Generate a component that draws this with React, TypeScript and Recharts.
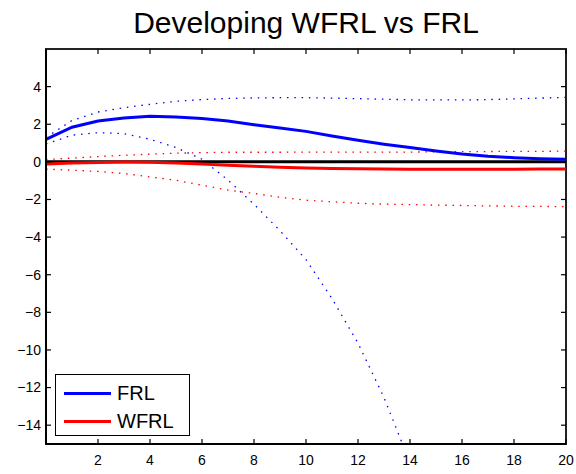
import React from "react";
import { LineChart, Line, XAxis, YAxis, ReferenceLine, ReferenceArea } from "recharts";

// horizon (periods)
const horizon = [0, 1, 2, 3, 4, 5, 6, 7, 8, 9, 10, 11, 12, 13, 14, 15, 16, 17, 18, 19, 20];

// responses
const frl = [1.2, 1.84, 2.17, 2.33, 2.42, 2.38, 2.3, 2.17, 1.97, 1.8, 1.62, 1.38, 1.15, 0.94, 0.76, 0.58, 0.42, 0.3, 0.22, 0.17, 0.14];
const frlUpper = [1.3, 2.2, 2.65, 2.88, 3.06, 3.22, 3.31, 3.37, 3.4, 3.41, 3.41, 3.39, 3.36, 3.33, 3.3, 3.29, 3.29, 3.31, 3.35, 3.39, 3.43];
const frlLower = [0.95, 1.42, 1.55, 1.5, 1.2, 0.76, 0.14, -0.97, -2.25, -3.66, -5.2, -7.27, -9.64, -12.53, -16.0, -19.9, null, null, null, null, null];

const wfrl = [-0.12, -0.06, -0.03, -0.01, -0.02, -0.06, -0.12, -0.18, -0.24, -0.29, -0.32, -0.35, -0.37, -0.38, -0.39, -0.39, -0.39, -0.39, -0.39, -0.38, -0.38];
const wfrlUpper = [0.12, 0.2, 0.28, 0.35, 0.41, 0.46, 0.49, 0.51, 0.51, 0.51, 0.52, 0.52, 0.52, 0.52, 0.52, 0.53, 0.54, 0.55, 0.56, 0.56, 0.57];
const wfrlLower = [-0.39, -0.44, -0.51, -0.62, -0.8, -0.98, -1.24, -1.5, -1.68, -1.88, -2.04, -2.12, -2.2, -2.25, -2.27, -2.3, -2.32, -2.34, -2.36, -2.37, -2.38];

const xTicks = [2, 4, 6, 8, 10, 12, 14, 16, 18, 20];
const yTicks = [-14, -12, -10, -8, -6, -4, -2, 0, 2, 4];
const xDomain = [0, 20];
const yDomain = [-15, 6];

const legendItems = [
  { name: "FRL", color: "#0000ff" },
  { name: "WFRL", color: "#ff0000" },
];

const data = horizon.map((h, i) => ({
  h,
  frl: frl[i],
  frlUpper: frlUpper[i],
  frlLower: frlLower[i],
  wfrl: wfrl[i],
  wfrlUpper: wfrlUpper[i],
  wfrlLower: wfrlLower[i],
}));

const FONT = '"Liberation Sans", Arial, Helvetica, sans-serif';
const W = 576;
const H = 474;
const margin = { top: 49, right: 10, bottom: 0, left: 0 };
const yAxisW = 46;
const xAxisH = 30;
const plotW = W - margin.left - margin.right - yAxisW;
const plotH = H - margin.top - margin.bottom - xAxisH;

const axisStroke = "#000";
const dots = "1.5 5.8";
const TICK = 5;

// matlab-style ticks: labels outside, tick marks pointing into the box on both sides
const LeftTick = ({ x, y, payload }: any) => {
  const ax = x + 5; // axis line position (tickMargin 5)
  return (
    <g>
      <line x1={ax} x2={ax + TICK} y1={y} y2={y} stroke={axisStroke} strokeWidth={1.2} />
      <line x1={ax + plotW} x2={ax + plotW - TICK} y1={y} y2={y} stroke={axisStroke} strokeWidth={1.2} />
      <text x={x} y={y} dy="0.35em" textAnchor="end" fontSize={14} fill="#000">
        {String(payload.value).replace("-", "\u2212")}
      </text>
    </g>
  );
};

const BottomTick = ({ x, y, payload }: any) => {
  const ay = y - 11; // axis line position (tickMargin 11)
  return (
    <g>
      <line x1={x} x2={x} y1={ay} y2={ay - TICK} stroke={axisStroke} strokeWidth={1.2} />
      <line x1={x} x2={x} y1={ay - plotH} y2={ay - plotH + TICK} stroke={axisStroke} strokeWidth={1.2} />
      <text x={x} y={y} dy="0.71em" textAnchor="middle" fontSize={14} fill="#000">
        {payload.value}
      </text>
    </g>
  );
};

const LegendBox = () => (
  <div
    style={{
      position: "absolute",
      left: 55,
      top: 374,
      width: 135,
      height: 62,
      border: "1px solid #000",
      background: "#fff",
      boxSizing: "border-box",
      paddingTop: 4,
    }}
  >
    {legendItems.map((it) => (
      <div key={it.name} style={{ display: "flex", alignItems: "center", height: 28 }}>
        <div style={{ width: 47, height: 3, background: it.color, marginLeft: 8 }} />
        <span style={{ marginLeft: 6, fontSize: 20, color: "#000" }}>{it.name}</span>
      </div>
    ))}
  </div>
);

export default function App() {
  return (
    <div
      style={{
        position: "absolute",
        left: 0,
        top: 0,
        width: W,
        height: H,
        background: "#fff",
        fontFamily: FONT,
      }}
    >
      <div
        style={{
          position: "absolute",
          left: margin.left + yAxisW,
          width: plotW,
          top: 6,
          textAlign: "center",
          fontSize: 30,
          color: "#000",
          whiteSpace: "nowrap",
        }}
      >
        Developing WFRL vs FRL
      </div>
      <LineChart width={W} height={H} data={data} margin={margin} style={{ fontFamily: FONT }}>
        <XAxis
          dataKey="h"
          type="number"
          domain={xDomain}
          ticks={xTicks}
          height={xAxisH}
          tickSize={0}
          tickMargin={11}
          tick={<BottomTick />}
          axisLine={{ stroke: axisStroke, strokeWidth: 2 }}
          tickLine={false}
        />
        <YAxis
          type="number"
          domain={yDomain}
          ticks={yTicks}
          allowDataOverflow
          width={yAxisW}
          tickSize={0}
          tickMargin={5}
          tick={<LeftTick />}
          axisLine={{ stroke: axisStroke, strokeWidth: 2 }}
          tickLine={false}
        />
        {/* axes box */}
        <ReferenceArea
          x1={xDomain[0]}
          x2={xDomain[1]}
          y1={yDomain[0]}
          y2={yDomain[1]}
          fill="none"
          fillOpacity={0}
          stroke="#222"
          strokeWidth={2}
          strokeOpacity={1}
          ifOverflow="visible"
        />
        <ReferenceLine y={0} stroke="#000" strokeWidth={3} />
        <Line dataKey="frlUpper" stroke="#0000ff" strokeWidth={1.3} strokeDasharray={dots} dot={false} isAnimationActive={false} />
        <Line dataKey="frlLower" stroke="#0000ff" strokeWidth={1.3} strokeDasharray={dots} dot={false} isAnimationActive={false} />
        <Line dataKey="wfrlUpper" stroke="#ff0000" strokeWidth={1.3} strokeDasharray={dots} dot={false} isAnimationActive={false} />
        <Line dataKey="wfrlLower" stroke="#ff0000" strokeWidth={1.3} strokeDasharray={dots} dot={false} isAnimationActive={false} />
        <Line dataKey="wfrl" name="WFRL" stroke="#ff0000" strokeWidth={3} dot={false} isAnimationActive={false} />
        <Line dataKey="frl" name="FRL" stroke="#0000ff" strokeWidth={3} dot={false} isAnimationActive={false} />
      </LineChart>
      <LegendBox />
    </div>
  );
}
